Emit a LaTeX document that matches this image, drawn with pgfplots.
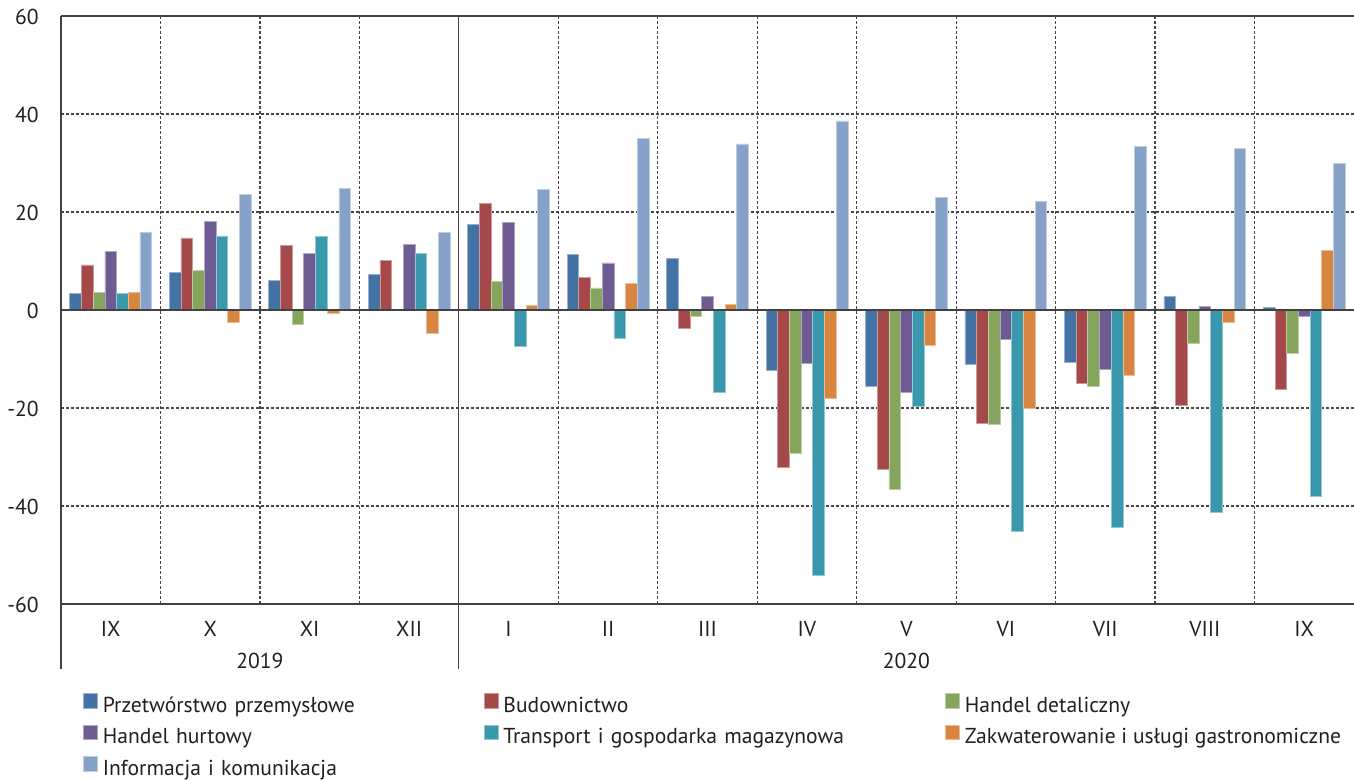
\documentclass[border=0pt]{standalone}
\usepackage{pgfplots}
\usepackage{pgfplotstable}
\usepackage{fontspec}
\setmainfont{PT Sans}
\pgfplotsset{compat=1.18}

\definecolor{cPrz}{HTML}{4373A5}
\definecolor{cBud}{HTML}{A4484A}
\definecolor{cDet}{HTML}{84A55B}
\definecolor{cHur}{HTML}{6E5B91}
\definecolor{cTra}{HTML}{3A98AC}
\definecolor{cZak}{HTML}{D98542}
\definecolor{cInf}{HTML}{87A2C8}
\definecolor{txt}{HTML}{231F20}
\definecolor{gridc}{HTML}{474747}

% x: 0-3 = IX-XII 2019, 4-12 = I-IX 2020
\pgfplotstableread{
x  prz   bud   det   hur   tra   zak   inf
0  3.3   9.2   3.6   12.0  3.4   3.6   15.9
1  7.7   14.7  8.1   18.0  15.1  -2.5  23.5
2  6.0   13.1  -2.9  11.6  15.0  -0.75 24.8
3  7.3   10.2  0     13.3  11.6  -4.8  15.9
4  17.5  21.8  5.9   17.8  -7.5  1.0   24.6
5  11.4  6.7   4.5   9.6   -5.7  5.5   35.1
6  10.5  -3.8  -1.2  2.7   -16.8 1.2   33.9
7  -12.4 -32.1 -29.2 -10.8 -54.1 -18.0 38.6
8  -15.5 -32.6 -36.7 -16.9 -19.6 -7.2  23.0
9  -11.1 -23.2 -23.3 -5.9  -45.2 -20.1 22.2
10 -10.6 -14.9 -15.5 -12.2 -44.4 -13.4 33.3
11 2.7   -19.4 -6.8  0.8   -41.4 -2.5  32.9
12 0.5   -16.1 -8.9  -1.2  -38.0 12.2  29.9
}\dane

\begin{document}
\begin{tikzpicture}[font=\fontsize{10.8bp}{13bp}\selectfont, text=txt]
\begin{axis}[
    scale only axis,
    width=646.5bp, height=294bp,
    ybar=0pt, bar width=5.85bp,
    xmin=-0.5, xmax=12.5,
    ymin=-60, ymax=60,
    ytick={-60,-40,...,60},
    xtick={0,...,12},
    xticklabels={IX,X,XI,XII,I,II,III,IV,V,VI,VII,VIII,IX},
    minor xtick={0.5,1.5,2.5,4.5,5.5,6.5,7.5,8.5,9.5,10.5,11.5},
    major tick length=0pt, minor tick length=0pt,
    ymajorgrids, xminorgrids,
    major grid style={gridc, line width=0.6bp, dash pattern=on 1.5bp off 1bp},
    minor grid style={gridc, line width=0.6bp, dash pattern=on 1.5bp off 1bp},
    axis x line*=box, axis y line*=left,
    axis line style={draw=txt!85, line width=0.6bp},
    /pgf/number format/assume math mode=true,
    tick label style={font=\fontsize{10.8bp}{13bp}\selectfont, text=txt, inner sep=0pt},
    yticklabel style={anchor=east, yshift=-0.6bp},
    yticklabel shift=11bp,
    xticklabel style={anchor=base},
    xticklabel shift=16.5bp,
    clip=false,
    legend columns=3,
    legend image code/.code={\fill[#1] (0bp,-0.3bp) rectangle (7bp,6.8bp);},
    legend style={
        draw=none, fill=none, inner sep=0pt,
        at={(0,0)}, anchor=north west, xshift=11bp, yshift=-44.5bp,
        font=\fontsize{10.8bp}{13bp}\selectfont, text=txt,
        nodes={inner sep=0pt, text height=7.5bp, text depth=2.5bp},
        row sep=3.8bp,
        /tikz/every odd column/.style={column sep=2.4bp},
        /tikz/column 2/.style={text width=190.5bp, align=left},
        /tikz/column 4/.style={text width=221bp, align=left},
    },
    legend cell align=left,
]
\addplot[fill=cPrz, draw=cPrz!55!white, line width=0.35bp] table[x=x, y=prz] {\dane};
\addplot[fill=cBud, draw=cBud!55!white, line width=0.35bp] table[x=x, y=bud] {\dane};
\addplot[fill=cDet, draw=cDet!55!white, line width=0.35bp] table[x=x, y=det] {\dane};
\addplot[fill=cHur, draw=cHur!55!white, line width=0.35bp] table[x=x, y=hur] {\dane};
\addplot[fill=cTra, draw=cTra!55!white, line width=0.35bp] table[x=x, y=tra] {\dane};
\addplot[fill=cZak, draw=cZak!55!white, line width=0.35bp] table[x=x, y=zak] {\dane};
\addplot[fill=cInf, draw=cInf!55!white, line width=0.35bp] table[x=x, y=inf] {\dane};
\legend{Przetwórstwo przemysłowe, Budownictwo, Handel detaliczny,
        Handel hurtowy, Transport i gospodarka magazynowa, Zakwaterowanie i usługi gastronomiczne,
        Informacja i komunikacja}
% zero line, year separator and year labels
\draw[txt!85, line width=0.6bp] (axis cs:-0.5,0) -- (axis cs:12.5,0);
\draw[txt!85, line width=0.6bp] (axis cs:3.5,60) -- ([yshift=-32.5bp]axis cs:3.5,-60);
\draw[txt!85, line width=0.6bp] (axis cs:-0.5,-60) -- ([yshift=-32.5bp]axis cs:-0.5,-60);
\node[anchor=base] at ([yshift=-32.5bp]axis cs:1.5,-60) {2019};
\node[anchor=base] at ([yshift=-32.5bp]axis cs:8,-60) {2020};
\end{axis}
\pgfresetboundingbox
\path[use as bounding box] ([xshift=-30.5bp,yshift=-88bp]current axis.south west) rectangle ([yshift=8bp]current axis.north east);
\end{tikzpicture}
\end{document}
